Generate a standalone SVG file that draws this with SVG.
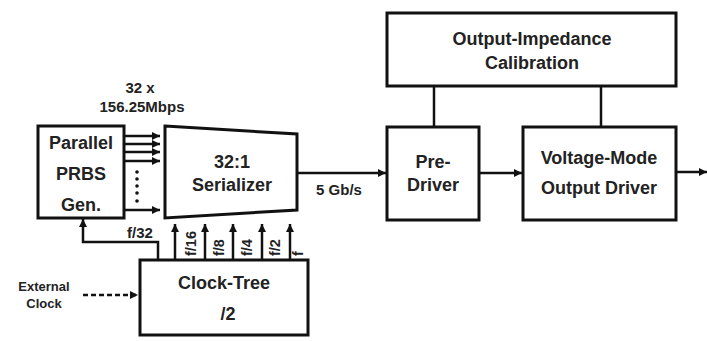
<svg xmlns="http://www.w3.org/2000/svg" width="707" height="341" viewBox="0 0 707 341">
<defs>
<style>
.box{fill:#fff;stroke:#111;stroke-width:3}
.ln{fill:none;stroke:#111;stroke-width:2.5}
.t{font-family:"Liberation Sans",Arial,sans-serif;font-weight:bold;fill:#222;text-anchor:middle}
.big{font-size:18px}
.mid{font-size:15px}
.sm{font-size:13px}
.rot{font-size:14.5px;text-anchor:start}
</style>
<marker id="ah" viewBox="0 0 10 10" refX="10" refY="5" markerWidth="10" markerHeight="8" markerUnits="userSpaceOnUse" orient="auto">
<path d="M0,0 L10,5 L0,10 z" fill="#111"/>
</marker>
</defs>
<rect width="707" height="341" fill="#fff"/>
<g id="connectors">
<line class="ln" x1="124" y1="136" x2="160" y2="136" marker-end="url(#ah)"/>
<line class="ln" x1="124" y1="144" x2="160" y2="144" marker-end="url(#ah)"/>
<line class="ln" x1="124" y1="152" x2="160" y2="152" marker-end="url(#ah)"/>
<line class="ln" x1="124" y1="161" x2="160" y2="161" marker-end="url(#ah)"/>
<line class="ln" x1="124" y1="210" x2="160" y2="210" marker-end="url(#ah)"/>
<g fill="#111"><circle cx="137" cy="172" r="1.8"/><circle cx="137" cy="179" r="1.8"/><circle cx="137" cy="186" r="1.8"/><circle cx="137" cy="193" r="1.8"/><circle cx="137" cy="201" r="1.8"/></g>
<line class="ln" x1="297" y1="173" x2="386" y2="173" marker-end="url(#ah)"/>
<line class="ln" x1="479" y1="173" x2="522" y2="173" marker-end="url(#ah)"/>
<line class="ln" x1="676" y1="172" x2="707" y2="172" marker-end="url(#ah)"/>
<line class="ln" x1="434" y1="86" x2="434" y2="127"/>
<line class="ln" x1="601" y1="86" x2="601" y2="127"/>
<path class="ln" d="M158,260 V242 H83 V219" marker-end="url(#ah)"/>
<line class="ln" x1="175" y1="260" x2="175" y2="224" marker-end="url(#ah)"/>
<line class="ln" x1="205" y1="260" x2="205" y2="224" marker-end="url(#ah)"/>
<line class="ln" x1="233" y1="260" x2="233" y2="224" marker-end="url(#ah)"/>
<line class="ln" x1="262" y1="260" x2="262" y2="224" marker-end="url(#ah)"/>
<line class="ln" x1="290" y1="260" x2="290" y2="224" marker-end="url(#ah)"/>
<line class="ln" x1="83" y1="295" x2="138" y2="295" stroke-dasharray="5,3" marker-end="url(#ah)"/>
<text class="t mid" x="140" y="93">32 x</text>
<text class="t mid" x="142" y="112">156.25Mbps</text>
<text class="t mid" x="339" y="195">5 Gb/s</text>
<text class="t mid" x="140" y="238">f/32</text>
<text class="t rot" x="196" y="256" transform="rotate(-90 196 256)">f/16</text>
<text class="t rot" x="224" y="256" transform="rotate(-90 224 256)">f/8</text>
<text class="t rot" x="252" y="256" transform="rotate(-90 252 256)">f/4</text>
<text class="t rot" x="280" y="256" transform="rotate(-90 280 256)">f/2</text>
<text class="t rot" x="303" y="256" transform="rotate(-90 303 256)">f</text>
<text class="t sm" x="44" y="291">External</text>
<text class="t sm" x="44" y="308">Clock</text>
</g>
<g id="prbs">
<rect class="box" x="38" y="126" width="86" height="92"/>
<text class="t big" x="81" y="149">Parallel</text>
<text class="t big" x="81" y="180">PRBS</text>
<text class="t big" x="81" y="211">Gen.</text>
</g>
<g id="serializer">
<polygon class="box" points="165,126 297,134 297,210 165,218"/>
<text class="t big" x="232" y="168">32:1</text>
<text class="t big" x="232" y="191">Serializer</text>
</g>
<g id="calibration">
<rect class="box" x="387" y="13" width="289" height="73"/>
<text class="t big" x="532" y="45">Output-Impedance</text>
<text class="t big" x="532" y="69">Calibration</text>
</g>
<g id="predriver">
<rect class="box" x="387" y="127" width="92" height="93"/>
<text class="t big" x="433" y="168">Pre-</text>
<text class="t big" x="433" y="191">Driver</text>
</g>
<g id="outdriver">
<rect class="box" x="523" y="127" width="153" height="93"/>
<text class="t big" x="599" y="164">Voltage-Mode</text>
<text class="t big" x="599" y="194">Output Driver</text>
</g>
<g id="clocktree">
<rect class="box" x="140" y="260" width="168" height="75"/>
<text class="t big" x="224" y="289">Clock-Tree</text>
<text class="t big" x="228" y="320">/2</text>
</g>
</svg>
